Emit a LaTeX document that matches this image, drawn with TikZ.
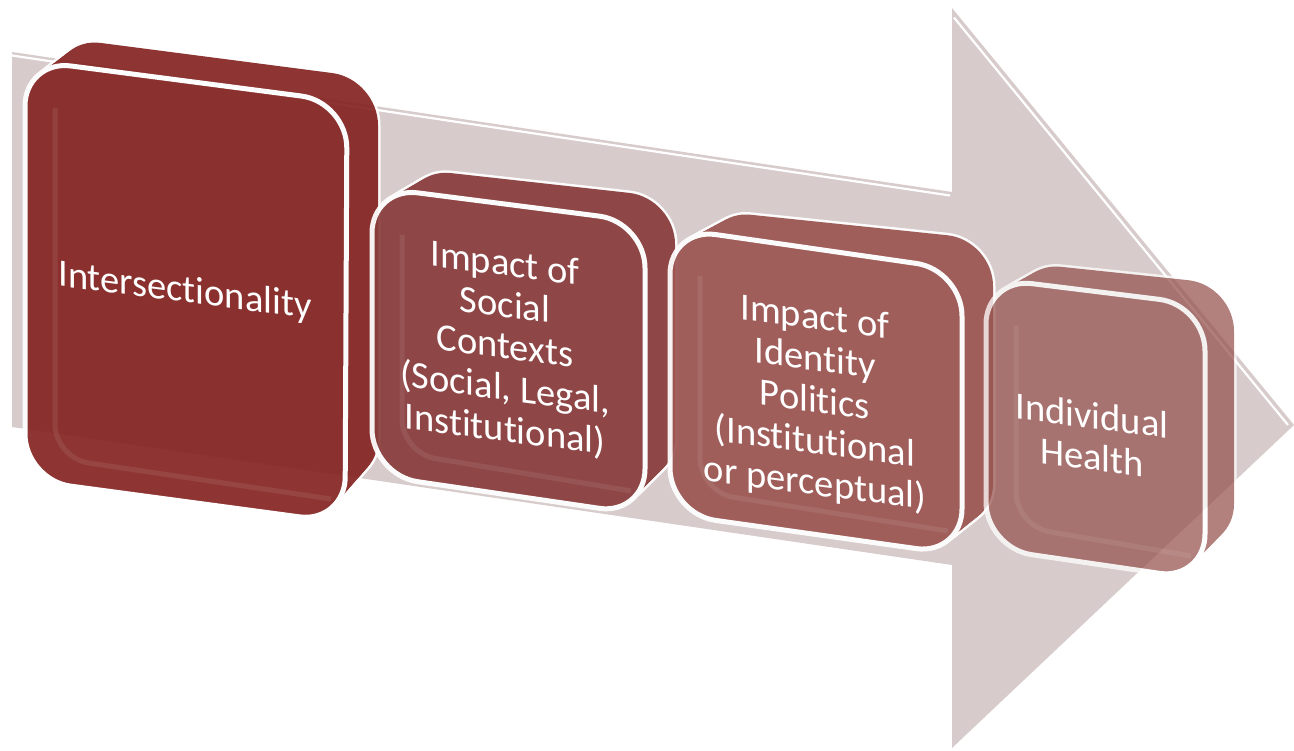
\documentclass[tikz,border=0pt]{standalone}
\usepackage{fontspec}
\setmainfont{Carlito}[Ligatures=NoCommon]
\usetikzlibrary{calc}

\definecolor{shaft}{RGB}{215,203,203}
\definecolor{redA}{RGB}{133,38,36}
\definecolor{redB}{RGB}{137,62,60}
\definecolor{redC}{RGB}{156,86,83}
\definecolor{redD}{RGB}{152,86,82}

\tikzset{
  rim/.style={draw=white, line width=5pt},
  bevel/.style={draw=white, draw opacity=0.08, line width=5pt, rounded corners=34pt},
  blocktext/.style={text=white, align=center, font=\fontsize{38.5}{41.5}\selectfont, yslant=-0.13}
}

% one face of a block, taken between its back (0) and front (1) face
\def\blockface[#1](#2)(#3){\path[#1, rounded corners=46pt]
  ($(#2-b1)!#3!(#2-f1)$) -- ($(#2-b2)!#3!(#2-f2)$) -- ($(#2-b3)!#3!(#2-f3)$) -- ($(#2-b4)!#3!(#2-f4)$) -- cycle;}

% solid block: white rim of every slice, then the body, then the front face
\def\block(#1)(#2)(#3){%
  \begin{scope}[transparency group, opacity=#3]
    \foreach \t in {0,0.1,...,0.9} {\blockface[rim](#1)(\t)}
    \foreach \t in {0,0.1,...,0.9} {\blockface[fill=#2](#1)(\t)}
    \blockface[fill=#2, rim](#1)(1)
    \draw[bevel] ($(#1-f1)+(30,48)$) -- ($(#1-f4)+(30,-22)$) -- ($(#1-f3)+(-14,-24)$);
  \end{scope}}

\begin{document}
\begin{tikzpicture}[x=1pt, y=-1pt]
	%%%%% START %%%%%
	\useasboundingbox (0,0) rectangle (1294,751);
	
	% big arrow behind the blocks
	\fill[shaft] (12,52) -- (952,192) -- (952,8) -- (1294,425) -- (952,748) -- (952,565) -- (12,427) -- cycle;
	\draw[white, line width=2.2pt] (12,55.5) -- (950,195.5);
	\draw[white, line width=2.2pt] (954,17.6) -- (1288,425);
	
	% back faces (b) and front faces (f) of the blocks
	\path (55,37) coordinate (inter-b1) (378,79) coordinate (inter-b2) (378,485) coordinate (inter-b3) (58,455) coordinate (inter-b4);
	\path (25,60) coordinate (inter-f1) (347,102) coordinate (inter-f2) (345,523) coordinate (inter-f3) (25,480) coordinate (inter-f4);
	
	\path (405,168) coordinate (soc-b1) (675,198) coordinate (soc-b2) (675,485) coordinate (soc-b3) (405,450) coordinate (soc-b4);
	\path (372,187) coordinate (soc-f1) (645,222) coordinate (soc-f2) (645,515) coordinate (soc-f3) (372,475) coordinate (soc-f4);
	
	\path (705,210) coordinate (ident-b1) (993,240) coordinate (ident-b2) (993,530) coordinate (ident-b3) (705,495) coordinate (ident-b4);
	\path (670,228) coordinate (ident-f1) (962,270) coordinate (ident-f2) (962,555) coordinate (ident-f3) (670,514) coordinate (ident-f4);
	
	\path (1015,262) coordinate (health-b1) (1234,285) coordinate (health-b2) (1234,550) coordinate (health-b3) (1015,530) coordinate (health-b4);
	\path (986,278) coordinate (health-f1) (1205,305) coordinate (health-f2) (1205,580) coordinate (health-f3) (986,548) coordinate (health-f4);
	
	\block(inter)(redA)(0.93)
	\node[blocktext] (inter-text) at (185,292) {Intersectionality};
	
	\block(soc)(redB)(0.93)
	\node[blocktext] (soc-text) at (505,348) {Impact of\\Social\\Contexts\\(Social, Legal,\\Institutional)};
	
	\block(ident)(redC)(0.93)
	\node[blocktext] (ident-text) at (815,402) {Impact of\\Identity\\Politics\\(Institutional\\or perceptual)};
	
	\block(health)(redD)(0.75)
	\node[blocktext] (health-text) at (1092,436) {Individual\\Health};
	
	%%%%% END %%%%%
\end{tikzpicture}
\end{document}
